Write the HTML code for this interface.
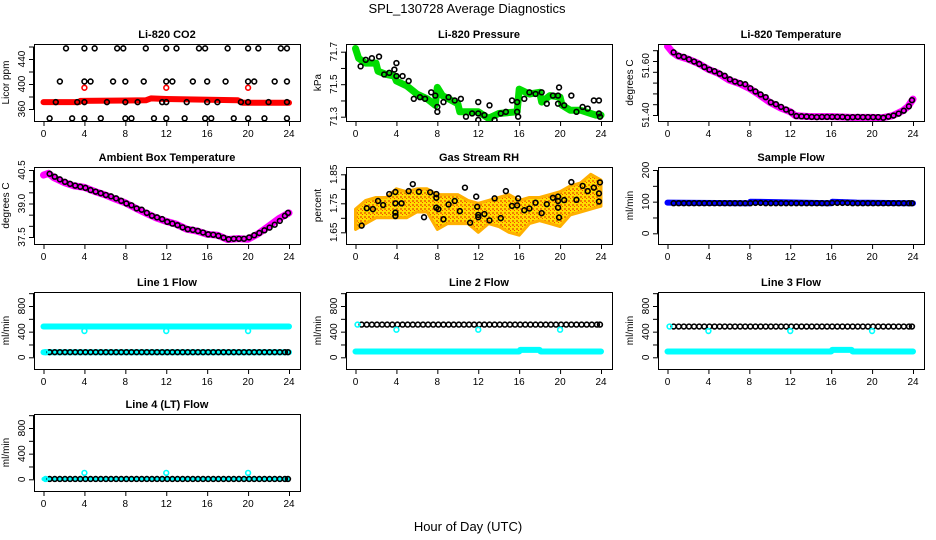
<!DOCTYPE html>
<html><head><meta charset="utf-8"><title>SPL_130728 Average Diagnostics</title>
<style>
html,body{margin:0;padding:0;background:#fff;}
svg{display:block;font-family:"Liberation Sans",Arial,sans-serif;}
</style></head>
<body>
<svg id="chart" width="936" height="540" viewBox="0 0 936 540" xmlns="http://www.w3.org/2000/svg">
<defs>
<pattern id="rhpat" width="4" height="4" patternUnits="userSpaceOnUse">
<rect width="4" height="4" fill="#ffdd00"/>
<rect x="0" y="0" width="2" height="2" fill="#f08000"/>
<rect x="2" y="2" width="1" height="1" fill="#ff4000"/>
</pattern>
</defs>
<text x="467" y="13" font-size="13" text-anchor="middle">SPL_130728  Average Diagnostics</text>
<text x="468" y="531" font-size="13" text-anchor="middle">Hour of Day (UTC)</text>
</svg>
<script>
// ---------- shared data ----------
const xTicks = [0,4,8,12,16,20,24];
const H = [0.6,1.1,1.6,2.1,2.6,3.1,3.6,4.1,4.6,5.1,5.6,6.1,6.6,7.1,7.6,8.1,8.6,9.1,9.6,10.1,10.6,11.1,11.6,12.1,12.6,13.1,13.6,14.1,14.6,15.1,15.6,16.1,16.6,17.1,17.6,18.1,18.6,19.1,19.6,20.1,20.6,21.1,21.6,22.1,22.6,23.1,23.6,23.9];

// CO2
const co2Ticks = [360,380,400,420,440,460];
const co2Labels = [360,400,440];
const co2BandX = [0,3.5,3.6,10,10.5,12,19,19.5,24];
const co2BandY = [371,371,373,374,377,376,374,370,370];
const co2OutX = [4,12,20];
const co2OutY = [394,394,394];
const co2TopX = [2.2,4,5,7.2,7.8,10,12,13,15.2,15.8,18,20,21,23.2,23.8];
const co2MidX = [1.6,4,4.6,6.8,8,9.8,12,12.6,14.6,16,17.8,20,20.6,22.6,23.8];
const co2LowX = [1.2,3.3,4,6.2,8,9.2,11.6,12,14,16,17,19.3,20,22,23.8];
const co2BotX = [0.6,2.8,4,5.6,8,8.6,10.8,12,13.8,15.8,16.4,18.6,20,21.6,23.8];
const co2TopY = 457, co2MidY = 404, co2LowY = 371, co2BotY = 345;

// Pressure
const prTicks = [71.3,71.4,71.5,71.6,71.7];
const prLabels = [71.3,71.5,71.7];
const prBandX = [0,0.3,1,2,2.2,3,3.8,4,5,6,7,7.8,8,8.5,10,10.2,12,12.5,13,14,15.8,16,17,18,18.2,19,20,20.2,21,22,23,23.5,24];
const prBandY = [71.72,71.66,71.63,71.63,71.58,71.56,71.55,71.52,71.49,71.44,71.41,71.37,71.48,71.43,71.38,71.33,71.33,71.31,71.29,71.32,71.33,71.47,71.44,71.45,71.39,71.43,71.42,71.37,71.34,71.34,71.32,71.31,71.31];
const prPtX = [0.5,1,1.6,2.3,2.8,3.3,3.8,4,4,4.6,5.2,5.7,6.3,6.8,7.4,7.8,8,8,8.6,9.1,9.7,10.3,10.8,11.4,12,12,12,12.6,13.1,13.6,14.2,14.7,15.3,15.8,15.8,15.9,16.5,17,17.6,18.2,18.7,19.3,19.8,19.8,19.9,20.4,21.1,21.6,22.2,22.7,23.3,23.8,23.8,23.9];
const prPtY = [71.61,71.65,71.66,71.67,71.56,71.57,71.59,71.63,71.55,71.55,71.52,71.41,71.42,71.41,71.45,71.43,71.33,71.36,71.39,71.42,71.40,71.41,71.30,71.32,71.32,71.28,71.39,71.31,71.37,71.28,71.32,71.33,71.40,71.39,71.33,71.30,71.41,71.45,71.44,71.45,71.38,71.43,71.43,71.38,71.48,71.37,71.43,71.33,71.36,71.35,71.40,71.40,71.32,71.30];

// Li-820 temperature
const ltTicks = [51.40,51.44,51.48,51.52,51.56,51.60,51.64];
const ltLabelVals = [51.40,51.583];
const ltLabelText = ["51.40","51.60"];
const ltBandX = [0,0.5,1,2,3,4,5,6,7,8,9,10,11,12,12.5,14,16,18,20,21,22,23,23.5,24];
const ltBandY = [51.655,51.632,51.619,51.607,51.591,51.569,51.554,51.530,51.517,51.499,51.474,51.447,51.427,51.412,51.397,51.394,51.394,51.391,51.391,51.390,51.397,51.416,51.431,51.459];
const ltPtY = [51.632,51.619,51.615,51.606,51.598,51.589,51.578,51.568,51.562,51.553,51.545,51.532,51.524,51.518,51.514,51.499,51.487,51.476,51.466,51.447,51.440,51.430,51.420,51.410,51.396,51.395,51.394,51.393,51.392,51.393,51.393,51.393,51.393,51.393,51.391,51.392,51.393,51.392,51.392,51.392,51.392,51.390,51.394,51.398,51.405,51.416,51.432,51.455];

// Ambient box temperature
const abTicks = [37.5,38.0,38.5,39.0,39.5,40.0,40.5];
const abLabels = [37.5,39.0,40.5];
const abLabelText = ["37.5","39.0","40.5"];
const abBandX = [0,0.5,1,2,3,4,5,6,7,8,9,10,11,12,13,14,15,16,17,18,19,20,21,22,23,24];
const abBandY = [40.27,40.35,40.16,39.94,39.79,39.72,39.54,39.39,39.20,39.03,38.79,38.57,38.36,38.20,38.07,37.85,37.77,37.62,37.58,37.39,37.43,37.40,37.65,37.98,38.32,38.58];
const abPtY = [40.33,40.2,40.08,39.97,39.88,39.8,39.75,39.7,39.6,39.53,39.46,39.38,39.32,39.23,39.12,39.0,38.92,38.78,38.72,38.58,38.45,38.38,38.3,38.18,38.1,38.03,37.93,37.85,37.82,37.77,37.7,37.62,37.6,37.55,37.47,37.4,37.42,37.42,37.42,37.48,37.58,37.68,37.8,37.92,38.05,38.22,38.45,38.58];

// Gas stream RH
const rhTicks = [1.65,1.70,1.75,1.80,1.85];
const rhLabels = [1.65,1.75,1.85];
const rhBandX = [0,1,2,3,4,5,6,7,8,9,10,11,12,13,14,15,16,17,18,19,20,21,22,23,24];
const rhUpper = [1.73,1.76,1.77,1.77,1.80,1.79,1.80,1.80,1.78,1.78,1.78,1.76,1.75,1.76,1.77,1.78,1.76,1.77,1.77,1.78,1.79,1.81,1.82,1.85,1.83];
const rhLower = [1.66,1.68,1.70,1.70,1.70,1.70,1.72,1.72,1.66,1.68,1.68,1.68,1.65,1.68,1.67,1.65,1.64,1.68,1.69,1.68,1.67,1.71,1.72,1.73,1.74];
const rhPtX = [0.6,1.1,1.7,2.2,2.7,3.3,3.9,3.9,3.9,3.9,4.5,5.2,5.6,6.2,6.7,7.3,7.9,7.9,7.9,8.1,8.6,9.1,9.7,10.2,10.7,11.2,11.8,11.9,12,12,12.6,13.1,13.6,14.2,14.7,15.3,15.8,15.9,16.5,17,17.6,18.2,18.7,19.3,19.8,19.8,19.8,19.9,20.4,21.1,21.6,22.2,22.7,23.3,23.8,23.8,23.9];
const rhPtY = [1.673,1.733,1.730,1.758,1.744,1.782,1.789,1.75,1.718,1.706,1.75,1.792,1.816,1.79,1.702,1.788,1.782,1.769,1.735,1.73,1.695,1.746,1.758,1.723,1.804,1.683,1.773,1.738,1.71,1.702,1.713,1.691,1.767,1.699,1.792,1.741,1.743,1.767,1.726,1.732,1.752,1.716,1.747,1.769,1.773,1.735,1.758,1.701,1.761,1.823,1.762,1.81,1.792,1.804,1.784,1.756,1.822];

// Sample flow
const sfTicks = [0,50,100,150,200];
const sfLabels = [0,100,200];
const sfBandX = [0,8,8.1,16,16.1,18.5,24];
const sfBandY = [97,95,100,95,100,97,95];
const sfPtY = [95,95,95,95,95,95,95,95,95,95,95,95,95,95,95,95,96,96,95,95,95,95,95,95,95,95,95,95,95,95,95,96,96,96,96,95,95,95,95,95,95,95,95,95,95,95,95,95];

// Line flows
const flTicks = [0,200,400,600,800,1000];
const flLabels = [0,400,800];
const l1BandX = [0,24];
const l1BandY = [480,480];
const l1LowBandY = [80,80];
const l1PtY = [80,80,80,80,80,80,80,80,80,80,80,80,80,80,80,80,80,80,80,80,80,80,80,80,80,80,80,80,80,80,80,80,80,80,80,80,80,80,80,80,80,80,80,80,80,80,80,80];
const l1OutX = [4,12,20,0.2];
const l1OutY = [410,410,410,80];
const l2BandX = [0,16,16.1,18,18.1,24];
const l2BandY = [90,90,115,115,90,90];
const l2PtY = [510,510,510,510,510,510,510,510,510,510,510,510,510,510,510,510,510,510,510,510,510,510,510,510,510,510,510,510,510,510,510,510,510,510,510,510,510,510,510,510,510,510,510,510,510,510,510,510];
const l2OutX = [4,12,20,0.2];
const l2OutY = [430,430,430,510];
const l3BandX = [0,16,16.1,18,18.1,24];
const l3BandY = [90,90,115,115,90,90];
const l3PtY = [480,480,480,480,480,480,480,480,480,480,480,480,480,480,480,480,480,480,480,480,480,480,480,480,480,480,480,480,480,480,480,480,480,480,480,480,480,480,480,480,480,480,480,480,480,480,480,480];
const l3OutX = [4,12,20,0.2];
const l3OutY = [410,410,410,480];
const l4BandX = [0,24];
const l4BandY = [5,5];
const l4PtY = [5,5,5,5,5,5,5,5,5,5,5,5,5,5,5,5,5,5,5,5,5,5,5,5,5,5,5,5,5,5,5,5,5,5,5,5,5,5,5,5,5,5,5,5,5,5,5,5];
const l4OutX = [4,12,20,0.2];
const l4OutY = [100,100,100,5];

// ---------- drawing ----------
const NS = "http://www.w3.org/2000/svg";
const svg = document.getElementById('chart');
const COLS = [34,346,658];
const ROWS = [44,167,292,414];
const PW = 266, PH = 77;

function mk(tag, attrs, parent){
  const e = document.createElementNS(NS, tag);
  for (const k in attrs) e.setAttribute(k, attrs[k]);
  parent.appendChild(e);
  return e;
}

function makePanel(col,row,title,ytitle,yRef1,yRef2,yTicks,yLabVals,yLabText,name){
  const L = COLS[col], T = ROWS[row];
  const g = mk('g',{},svg);
  
  
  const sx = h => L + 9.5 + (h/24)*245.5;
  const k = (yRef2[1]-yRef1[1])/(yRef2[0]-yRef1[0]);
  const sy = v => T + yRef1[1] + (v - yRef1[0])*k;
  const t = mk('text',{x:L+PW/2,y:T-6,'font-size':11,'font-weight':'bold','text-anchor':'middle'},g);
  t.textContent = title;
  
  
  const yt = mk('text',{x:0,y:0,'font-size':10,'text-anchor':'middle',transform:`translate(${L-25},${T+PH/2}) rotate(-90)`},g);
  yt.textContent = ytitle;
  
  
  const xa = mk('g',{stroke:'#000','stroke-width':1},g);
  
  
  mk('line',{x1:sx(xTicks[0]),x2:sx(xTicks[xTicks.length-1]),y1:T+PH+0.5,y2:T+PH+0.5},xa);
  xTicks.forEach(v=>{
    const tk = mk('line',{x1:sx(v)+0.5,x2:sx(v)+0.5,y1:T+PH,y2:T+PH+5},xa);
    
    
    const lb = mk('text',{x:sx(v),y:T+PH+16,'font-size':10,'text-anchor':'middle',stroke:'none'},g);
    lb.textContent = v;
    
    
  });
  const ya = mk('g',{stroke:'#000','stroke-width':1},g);
  
  
  mk('line',{x1:L-0.5,x2:L-0.5,y1:sy(yTicks[0]),y2:sy(yTicks[yTicks.length-1])},ya);
  yTicks.forEach(v=>{
    const tk = mk('line',{x1:L-5,x2:L,y1:sy(v)+0.5,y2:sy(v)+0.5},ya);
    
    
  });
  yLabVals.forEach((v,i)=>{
    const lb = mk('text',{x:0,y:0,'font-size':10,'text-anchor':'middle',transform:`translate(${L-9},${sy(v)}) rotate(-90)`},g);
    lb.textContent = yLabText ? yLabText[i] : String(v);
    
    
  });
  const clip = 'clip'+name;
  const cp = mk('clipPath',{id:clip},g);
  mk('rect',{x:L,y:T,width:PW,height:PH},cp);
  const plot = mk('g',{'clip-path':`url(#${clip})`},g);
  
  
  const box = mk('rect',{x:L+0.5,y:T+0.5,width:PW,height:PH,fill:'none',stroke:'#000','stroke-width':1},g);
  
  
  return {sx,sy,plot};
}

function band(p,xs,ys,color,w,name){
  const pts = xs.map((x,i)=>p.sx(x).toFixed(1)+','+p.sy(ys[i]).toFixed(1)).join(' ');
  const pl = mk('polyline',{points:pts,fill:'none',stroke:color,'stroke-width':w,'stroke-linejoin':'round','stroke-linecap':'round'},p.plot);
  
  
}
function circles(p,xs,ys,color,name,r){
  xs.forEach((x,i)=>{
    const c = mk('circle',{cx:p.sx(x),cy:p.sy(ys[i]),r:r||2.4,fill:'none',stroke:color,'stroke-width':1.6},p.plot);
    
    
  });
}
function constY(xs,v){ return xs.map(()=>v); }

let p = makePanel(0,0,'Li-820 CO2','Licor ppm',[360,65],[440,15],co2Ticks,co2Labels,null,'co2-panel');
band(p,co2BandX,co2BandY,'#ff0000',6,'co2-band');
circles(p,co2OutX,co2OutY,'#ff0000','co2-outlier');
circles(p,co2TopX,constY(co2TopX,co2TopY),'#000','co2-point');
circles(p,co2MidX,constY(co2MidX,co2MidY),'#000','co2-point');
circles(p,co2LowX,constY(co2LowX,co2LowY),'#000','co2-point');
circles(p,co2BotX,constY(co2BotX,co2BotY),'#000','co2-point');

p = makePanel(1,0,'Li-820 Pressure','kPa',[71.3,72.7],[71.7,7.7],prTicks,prLabels,null,'pressure-panel');
band(p,prBandX,prBandY,'#00dd00',7,'pressure-band');
circles(p,prPtX,prPtY,'#000','pressure-point');

p = makePanel(2,0,'Li-820 Temperature','degrees C',[51.40,71],[51.60,17],ltTicks,ltLabelVals,ltLabelText,'licor-temp-panel');
band(p,ltBandX,ltBandY,'#ff00ff',7,'licor-temp-band');
circles(p,H,ltPtY,'#000','licor-temp-point');

p = makePanel(0,1,'Ambient Box Temperature','degrees C',[40.5,3],[37.5,70],abTicks,abLabels,abLabelText,'ambient-temp-panel');
band(p,abBandX,abBandY,'#ff00ff',7,'ambient-temp-band');
circles(p,H,abPtY,'#000','ambient-temp-point');

p = makePanel(1,1,'Gas Stream RH','percent',[1.85,7.3],[1.65,65.3],rhTicks,rhLabels,null,'rh-panel');
{
  const up = rhBandX.map((x,i)=>p.sx(x).toFixed(1)+','+p.sy(rhUpper[i]).toFixed(1));
  const lo = rhBandX.map((x,i)=>p.sx(x).toFixed(1)+','+p.sy(rhLower[i]).toFixed(1)).reverse();
  const poly = mk('polygon',{points:up.concat(lo).join(' '),fill:'url(#rhpat)',stroke:'#ffb000','stroke-width':3,'stroke-linejoin':'round'},p.plot);
  
  
}
circles(p,rhPtX,rhPtY,'#000','rh-point');

p = makePanel(2,1,'Sample Flow','ml/min',[200,3],[0,66.3],sfTicks,sfLabels,null,'sample-flow-panel');
band(p,sfBandX,sfBandY,'#0000ff',6,'sample-flow-band');
circles(p,H,sfPtY,'#000','sample-flow-point');

p = makePanel(0,2,'Line 1 Flow','ml/min',[0,65.3],[800,14],flTicks,flLabels,null,'line1-flow-panel');
band(p,l1BandX,l1BandY,'#00ffff',6,'line1-high-band');
band(p,l1BandX,l1LowBandY,'#00ffff',6,'line1-low-band');
circles(p,H,l1PtY,'#000','line1-point');
circles(p,l1OutX,l1OutY,'#00ffff','line1-outlier');

p = makePanel(1,2,'Line 2 Flow','ml/min',[0,65.3],[800,14],flTicks,flLabels,null,'line2-flow-panel');
band(p,l2BandX,l2BandY,'#00ffff',6,'line2-band');
circles(p,H,l2PtY,'#000','line2-point');
circles(p,l2OutX,l2OutY,'#00ffff','line2-outlier');

p = makePanel(2,2,'Line 3 Flow','ml/min',[0,65.3],[800,14],flTicks,flLabels,null,'line3-flow-panel');
band(p,l3BandX,l3BandY,'#00ffff',6,'line3-band');
circles(p,H,l3PtY,'#000','line3-point');
circles(p,l3OutX,l3OutY,'#00ffff','line3-outlier');

p = makePanel(0,3,'Line 4 (LT) Flow','ml/min',[0,65.3],[800,14],flTicks,flLabels,null,'line4-flow-panel');
band(p,l4BandX,l4BandY,'#00ffff',4,'line4-band');
circles(p,H,l4PtY,'#000','line4-point');
circles(p,l4OutX,l4OutY,'#00ffff','line4-outlier');
</script>
</body></html>
